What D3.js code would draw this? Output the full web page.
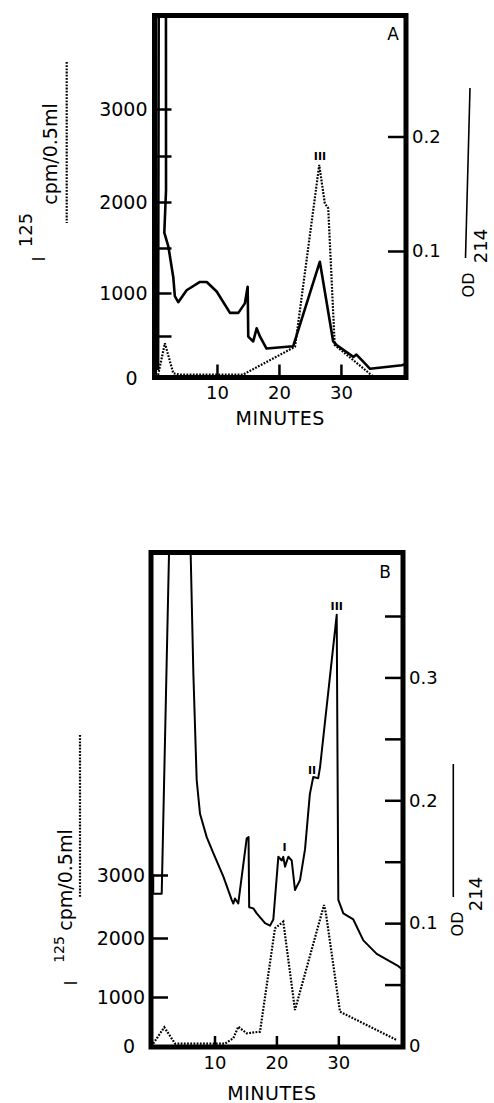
<!DOCTYPE html>
<html>
<head>
<meta charset="utf-8">
<script src="https://cdn.jsdelivr.net/npm/d3@7"></script>
<style>
  body { margin: 0; background: #fff; }
  svg { display: block; }
</style>
</head>
<body>
<div id="chart"></div>
<script>
// ---- panel A data ----
// solid trace, OD 214 (right axis)
const timeA_od = [0.5, 0.65, 1.75, 1.78, 1.5, 2.15, 2.95, 3.2, 3.75, 5.1, 7.25, 8.35, 9.95, 12.1, 13.45, 14.5, 14.95, 15.05, 15.85, 16.4, 16.95, 18.0, 22.3, 26.6, 28.75, 29.3, 32.0, 32.5, 33.6, 34.7, 39.8, 40.5];
const odA = [0.0, 0.5, 0.5, 0.153, 0.116, 0.104, 0.078, 0.062, 0.057, 0.067, 0.074, 0.074, 0.066, 0.048, 0.048, 0.056, 0.070, 0.028, 0.024, 0.035, 0.028, 0.018, 0.020, 0.091, 0.024, 0.021, 0.011, 0.013, 0.007, 0.001, 0.004, 0.005];
// dotted trace, I125 cpm/0.5ml (left axis)
const timeA_cpm = [0.5, 1.6, 2.95, 4.0, 14.2, 22.6, 26.5, 27.4, 27.95, 29.0, 35.5];
const cpmA = [36, 413, 56, 40, 40, 373, 2402, 1986, 1932, 393, 0];

// ---- panel B data ----
const timeB_od = [0.1, 0.1, 1.47, 2.86, 5.93, 6.58, 7.12, 7.66, 8.74, 9.81, 11.42, 12.78, 13.04, 13.31, 13.84, 14.12, 15.2, 15.5, 15.6, 16.27, 16.82, 18.16, 18.97, 19.5, 20.31, 20.86, 21.11, 21.39, 21.92, 22.47, 23.0, 23.81, 24.62, 25.4, 25.95, 26.75, 27.05, 29.74, 29.87, 30.0, 30.81, 32.42, 34.04, 36.2, 39.7, 40.4];
const odB = [0.14, 0.124, 0.124, 0.45, 0.45, 0.304, 0.2165, 0.189, 0.170, 0.157, 0.138, 0.119, 0.116, 0.120, 0.116, 0.127, 0.169, 0.170, 0.113, 0.112, 0.108, 0.100, 0.098, 0.103, 0.154, 0.151, 0.154, 0.146, 0.154, 0.151, 0.127, 0.135, 0.160, 0.205, 0.219, 0.218, 0.227, 0.351, 0.233, 0.119, 0.108, 0.103, 0.086, 0.075, 0.065, 0.062];
const timeB_cpm = [0.1, 1.89, 3.62, 11.7, 13.04, 13.84, 15.2, 17.35, 19.77, 21.11, 23.0, 27.69, 28.0, 30.27, 39.43];
const cpmB = [50, 382, 50, 50, 157, 394, 259, 292, 2154, 2259, 735, 2524, 2392, 700, 122];

// ---- ticks ----
const minuteTicks = [10, 20, 30];
const cpmTicksA = [0, 500, 1000, 1500, 2000, 2500, 3000];
const cpmTicksB = [0, 1000, 2000, 3000];
const cpmLabels = [0, 1000, 2000, 3000];
const odTicksA = [0.1, 0.2];
const odTicksB = [0, 0.05, 0.1, 0.15, 0.2, 0.25, 0.3, 0.35];
const odLabels = [0, 0.1, 0.2, 0.3];
const peakLabelsA = ["III"];
const peakLabelsB = ["I", "II", "III"];

const FONT = "DejaVu Sans, sans-serif";

const svg = d3.select("#chart").append("svg")
    .attr("width", 494)
    .attr("height", 1103);

function styleAxis(g, size) {
    g.select(".domain").remove();
    g.selectAll(".tick line").attr("stroke", "#000").attr("stroke-width", 2.5);
    g.selectAll(".tick text")
        .attr("fill", "#000")
        .attr("font-family", FONT)
        .attr("font-size", size);
}

function drawPanel(cfg) {
    const {frame, id} = cfg;
    const g = svg.append("g");

    const x = d3.scaleLinear().domain(cfg.xDomain).range(cfg.xRange);
    const yL = d3.scaleLinear().domain(cfg.leftDomain).range(cfg.leftRange);
    const yR = d3.scaleLinear().domain(cfg.rightDomain).range(cfg.rightRange);

    g.append("clipPath").attr("id", "clip" + id)
        .append("rect")
        .attr("x", frame.x0).attr("y", frame.y0)
        .attr("width", frame.x1 - frame.x0).attr("height", frame.y1 - frame.y0);

    const plot = g.append("g").attr("clip-path", `url(#clip${id})`);

    // dotted = cpm
    plot.append("path")
        .datum(d3.zip(cfg.timeCpm, cfg.cpm))
        .attr("fill", "none")
        .attr("stroke", "#000")
        .attr("stroke-width", 2.2)
        .attr("stroke-dasharray", "1.8,1.4")
        .attr("d", d3.line().x(d => x(d[0])).y(d => yL(d[1])));

    // solid = OD
    plot.append("path")
        .datum(d3.zip(cfg.timeOd, cfg.od))
        .attr("fill", "none")
        .attr("stroke", "#000")
        .attr("stroke-width", cfg.solidWidth)
        .attr("stroke-linejoin", "round")
        .attr("d", d3.line().x(d => x(d[0])).y(d => yR(d[1])));

    // axes, ticks pointing inward
    g.append("g")
        .attr("transform", `translate(${frame.x0},0)`)
        .call(d3.axisLeft(yL).tickValues(cfg.leftTicks).tickSize(-17).tickPadding(cfg.leftPad)
            .tickFormat(d => cpmLabels.includes(d) ? d : ""))
        .call(a => styleAxis(a, 19))
        .call(a => a.selectAll(".tick text").filter(d => d === 0).attr("dx", -10));

    g.append("g")
        .attr("transform", `translate(${frame.x1},0)`)
        .call(d3.axisRight(yR).tickValues(cfg.rightTicks).tickSize(-18).tickPadding(6)
            .tickFormat(d => odLabels.some(v => Math.abs(v - d) < 1e-9) ? (d === 0 ? "0" : d3.format(".1f")(d)) : ""))
        .call(a => styleAxis(a, 18))
        .call(a => a.selectAll(".tick line").filter(d => d === 0).remove());

    g.append("g")
        .attr("transform", `translate(0,${frame.y1})`)
        .call(d3.axisBottom(x).tickValues(minuteTicks).tickSize(-cfg.xTickLen).tickPadding(cfg.xPad))
        .call(a => styleAxis(a, 18));

    // frame
    g.append("rect")
        .attr("x", frame.x0).attr("y", frame.y0)
        .attr("width", frame.x1 - frame.x0).attr("height", frame.y1 - frame.y0)
        .attr("fill", "none")
        .attr("stroke", "#000")
        .attr("stroke-width", 5);

    g.append("text")
        .attr("x", cfg.letter.x).attr("y", cfg.letter.y)
        .attr("text-anchor", "middle")
        .attr("font-family", FONT).attr("font-size", 17)
        .text(cfg.letter.text);

    g.append("text")
        .attr("x", (frame.x0 + frame.x1) / 2 + cfg.minutesDx).attr("y", cfg.minutesY)
        .attr("text-anchor", "middle")
        .attr("font-family", FONT).attr("font-size", 19)
        .attr("letter-spacing", 0.5)
        .text("MINUTES");

    // peak numerals
    g.selectAll(".peak").data(cfg.peaks).join("text")
        .attr("class", "peak")
        .attr("x", d => d.x).attr("y", d => d.y)
        .attr("text-anchor", "middle")
        .attr("font-family", FONT).attr("font-size", 11).attr("font-weight", "bold")
        .text(d => d.text);

    // left legend: I125 cpm/0.5ml with dotted sample
    const L = cfg.leftLegend;
    const rot = (t, px, py, size) => g.append("text")
        .attr("transform", `translate(${px},${py}) rotate(-90)`)
        .attr("text-anchor", "middle")
        .attr("font-family", FONT).attr("font-size", size)
        .text(t);
    rot("I", L.iX, L.iY, 17);
    rot("125", L.supX, L.supY, L.supSize);
    rot("cpm/0.5ml", L.cpmX, L.cpmY, 19);
    g.append("line")
        .attr("x1", L.lineX).attr("x2", L.lineX).attr("y1", L.lineY0).attr("y2", L.lineY1)
        .attr("stroke", "#000").attr("stroke-width", 2.2).attr("stroke-dasharray", "1.8,1.4");

    // right legend: OD214 with solid sample
    const R = cfg.rightLegend;
    rot("OD", R.odX, R.odY, 16);
    rot("214", R.subX, R.subY, 18);
    g.append("line")
        .attr("x1", R.lx0).attr("x2", R.lx1).attr("y1", R.ly0).attr("y2", R.ly1)
        .attr("stroke", "#000").attr("stroke-width", 1.6);
}

drawPanel({
    id: "A",
    frame: {x0: 154.5, x1: 406, y0: 15.5, y1: 377.5},
    xDomain: [0, 40.5], xRange: [155, 406],
    leftDomain: cpmTicksA, leftRange: [378, 336, 293, 248, 202, 156, 109],
    rightDomain: [0, 0.1, 0.2], rightRange: [370, 251, 136.5],
    leftTicks: cpmTicksA, rightTicks: odTicksA,
    leftPad: 7, xTickLen: 13, xPad: 9,
    timeOd: timeA_od, od: odA, timeCpm: timeA_cpm, cpm: cpmA,
    solidWidth: 2.6,
    letter: {text: "A", x: 393, y: 40},
    minutesY: 425, minutesDx: 0,
    peaks: [{text: peakLabelsA[0], x: 320, y: 160}],
    leftLegend: {iX: 45, iY: 259, supX: 31.5, supY: 230, supSize: 18, cpmX: 57, cpmY: 154,
        lineX: 66.7, lineY0: 62, lineY1: 223},
    rightLegend: {odX: 474, odY: 285, subX: 487, subY: 246, lx0: 470, ly0: 88, lx1: 465.5, ly1: 258}
});

drawPanel({
    id: "B",
    frame: {x0: 151, x1: 403, y0: 552.5, y1: 1047},
    xDomain: [0, 40.4], xRange: [152.6, 402.7],
    leftDomain: cpmTicksB, leftRange: [1046, 997, 938, 875],
    rightDomain: [0, 0.35], rightRange: [1046, 616],
    leftTicks: cpmTicksB, rightTicks: odTicksB,
    leftPad: 6, xTickLen: 11, xPad: 9,
    timeOd: timeB_od, od: odB, timeCpm: timeB_cpm, cpm: cpmB,
    solidWidth: 2,
    letter: {text: "B", x: 385, y: 578},
    minutesY: 1100, minutesDx: -5,
    peaks: [
        {text: peakLabelsB[0], x: 284.5, y: 851},
        {text: peakLabelsB[1], x: 312, y: 773.5},
        {text: peakLabelsB[2], x: 336.7, y: 610}
    ],
    leftLegend: {iX: 77, iY: 983, supX: 64, supY: 949.5, supSize: 14, cpmX: 72, cpmY: 880,
        lineX: 80, lineY0: 735, lineY1: 898},
    rightLegend: {odX: 463, odY: 924, subX: 482, subY: 894, lx0: 453.3, ly0: 764, lx1: 453.3, ly1: 897}
});
</script>
</body>
</html>
